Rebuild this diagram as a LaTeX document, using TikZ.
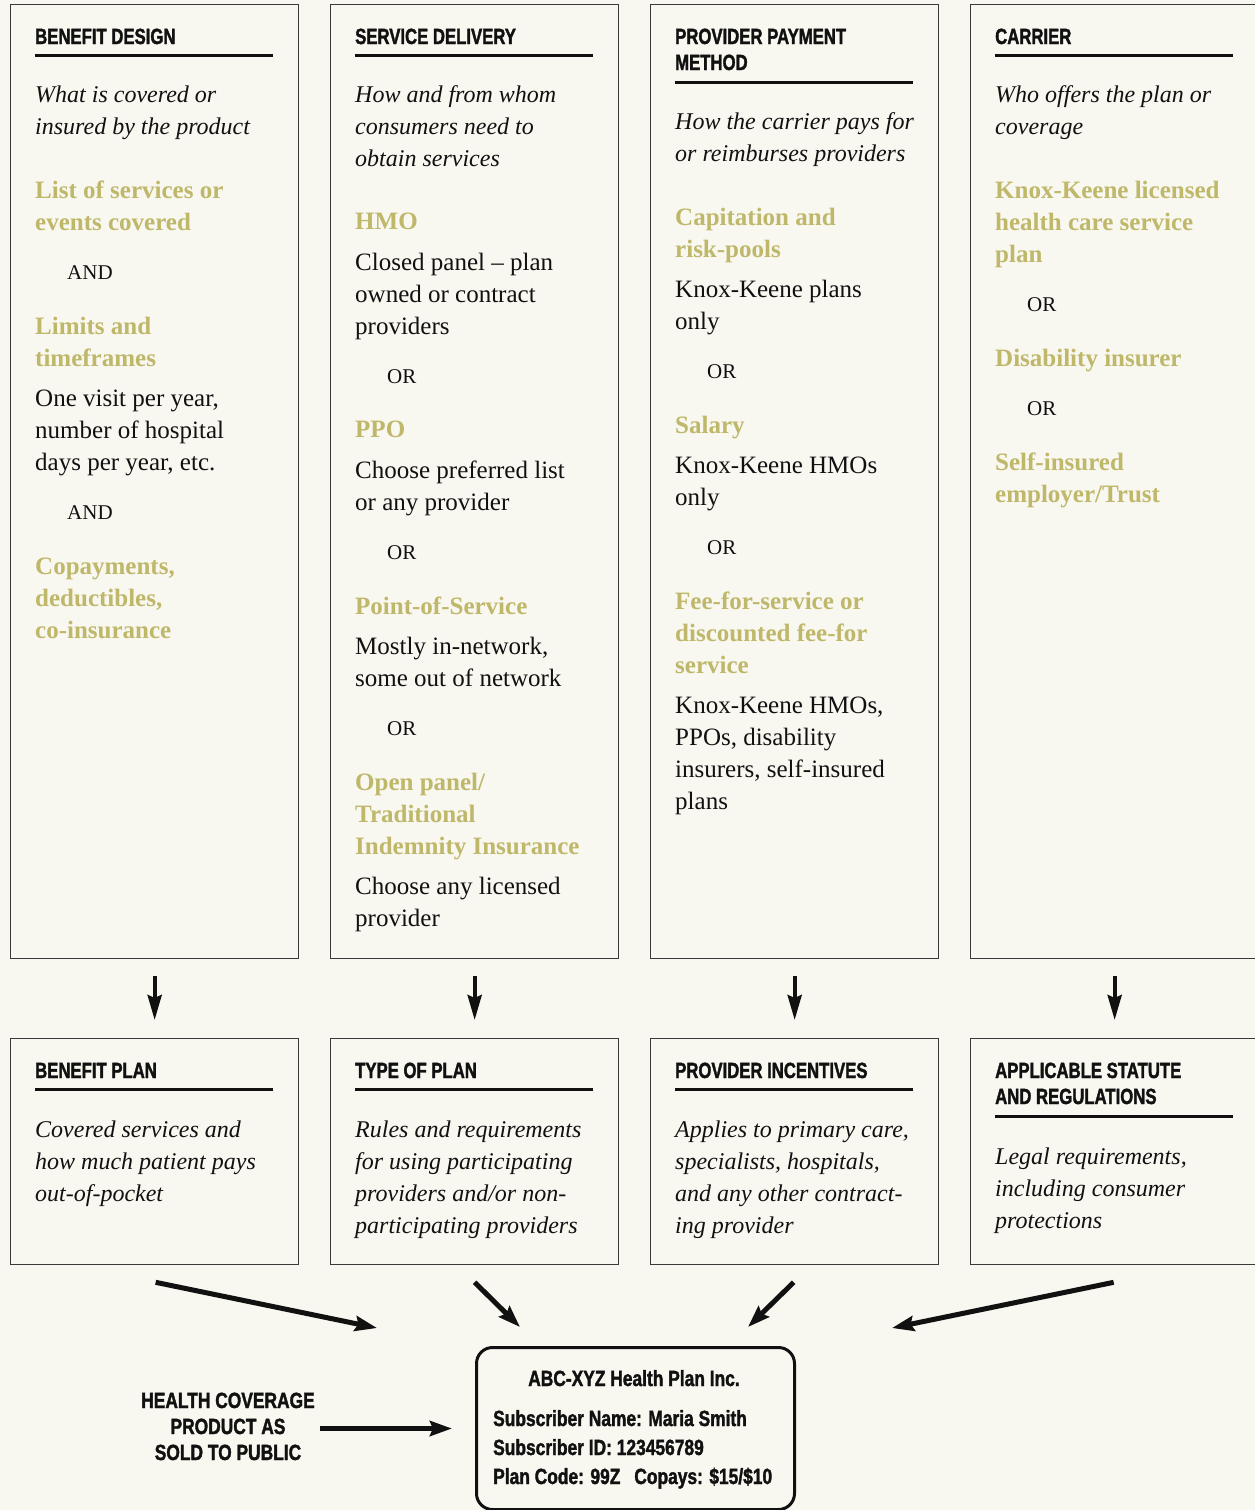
\documentclass[tikz,border=0pt]{standalone}
\usepackage{fontspec}
\setmainfont{Liberation Serif}
\newfontfamily\hdfont[FakeStretch=0.76,FakeBold=1.6]{Liberation Sans Bold}
\newfontfamily\ptfont[FakeStretch=0.79,FakeBold=1.6]{Liberation Sans Bold}
\usetikzlibrary{arrows.meta}
\definecolor{bg}{HTML}{F8F7F0}
\definecolor{gold}{HTML}{BFB86A}
\definecolor{ink}{HTML}{111111}
\definecolor{edge}{HTML}{3A3A3A}
\newcommand\blk[1]{\vtop{\hsize=420pt\raggedright\noindent #1}}
\newcommand\cblk[1]{\vtop{\hsize=220pt\centering #1}}
\tikzset{
  box/.style={draw=edge, line width=1.3pt, anchor=north west, inner sep=0, fill=bg},
  hd/.style={font=\hdfont\fontsize{22}{26}\selectfont, anchor=base west, inner sep=0, text=ink},
  it/.style={font=\itshape\fontsize{24}{32}\selectfont, anchor=base west, inner sep=0, text=ink},
  gd/.style={font=\bfseries\fontsize{25}{32}\selectfont, anchor=base west, inner sep=0, text=gold},
  bd/.style={font=\fontsize{25}{32}\selectfont, anchor=base west, inner sep=0, text=ink},
  cj/.style={font=\fontsize{21}{24}\selectfont, anchor=base west, inner sep=0, text=ink},
  pt/.style={font=\ptfont\fontsize{22}{26}\selectfont, anchor=base west, inner sep=0, text=ink},
  uline/.style={line width=3pt, draw=ink},
  arrd/.style={draw=ink, line width=4pt, -{Stealth[length=25pt,width=14pt,inset=3pt]}, shorten <=17pt, shorten >=18pt},
  arrg/.style={draw=ink, line width=5pt, -{Stealth[length=22pt,width=15pt,inset=3pt]}},
}
\begin{document}
\begin{tikzpicture}[x=1pt,y=-1pt]
\useasboundingbox (0,0) rectangle (1255,1510);
\fill[bg] (0,0) rectangle (1255,1510);

% ---------- top boxes ----------
\node[box, minimum width=288pt, minimum height=954pt] (t1) at (10,4) {};
\node[box, minimum width=288pt, minimum height=954pt] (t2) at (330,4) {};
\node[box, minimum width=288pt, minimum height=954pt] (t3) at (650,4) {};
\node[box, minimum width=288pt, minimum height=954pt] (t4) at (970,4) {};

% box 1
\node[hd] (t1h) at (35,44) {BENEFIT DESIGN};
\draw[uline] (35,55) -- (273,55);
\node[it] (t1d) at (35,102) {\blk{What is covered or\\insured by the product}};
\node[gd] (t1g1) at (35,198) {\blk{List of services or\\events covered}};
\node[cj] (t1c1) at (67,279) {AND};
\node[gd] (t1g2) at (35,334) {\blk{Limits and\\timeframes}};
\node[bd] (t1b2) at (35,406) {\blk{One visit per year,\\number of hospital\\days per year, etc.}};
\node[cj] (t1c2) at (67,519) {AND};
\node[gd] (t1g3) at (35,574) {\blk{Copayments,\\deductibles,\\co-insurance}};

% box 2
\node[hd] (t2h) at (355,44) {SERVICE DELIVERY};
\draw[uline] (355,55) -- (593,55);
\node[it] (t2d) at (355,102) {\blk{How and from whom\\consumers need to\\obtain services}};
\node[gd] (t2g1) at (355,229) {HMO};
\node[bd] (t2b1) at (355,270) {\blk{Closed panel \textendash{} plan\\owned or contract\\providers}};
\node[cj] (t2c1) at (387,383) {OR};
\node[gd] (t2g2) at (355,437) {PPO};
\node[bd] (t2b2) at (355,478) {\blk{Choose preferred list\\or any provider}};
\node[cj] (t2c2) at (387,559) {OR};
\node[gd] (t2g3) at (355,614) {Point-of-Service};
\node[bd] (t2b3) at (355,654) {\blk{Mostly in-network,\\some out of network}};
\node[cj] (t2c3) at (387,735) {OR};
\node[gd] (t2g4) at (355,790) {\blk{Open panel/\\Traditional\\Indemnity Insurance}};
\node[bd] (t2b4) at (355,894) {\blk{Choose any licensed\\provider}};

% box 3
\node[hd] (t3h) at (675,44) {\blk{PROVIDER PAYMENT\\METHOD}};
\draw[uline] (675,82) -- (913,82);
\node[it] (t3d) at (675,129) {\blk{How the carrier pays for\\or reimburses providers}};
\node[gd] (t3g1) at (675,225) {\blk{Capitation and\\risk-pools}};
\node[bd] (t3b1) at (675,297) {\blk{Knox-Keene plans\\only}};
\node[cj] (t3c1) at (707,378) {OR};
\node[gd] (t3g2) at (675,433) {Salary};
\node[bd] (t3b2) at (675,473) {\blk{Knox-Keene HMOs\\only}};
\node[cj] (t3c2) at (707,554) {OR};
\node[gd] (t3g3) at (675,609) {\blk{Fee-for-service or\\discounted fee-for\\service}};
\node[bd] (t3b3) at (675,713) {\blk{Knox-Keene HMOs,\\PPOs, disability\\insurers, self-insured\\plans}};

% box 4
\node[hd] (t4h) at (995,44) {CARRIER};
\draw[uline] (995,55) -- (1233,55);
\node[it] (t4d) at (995,102) {\blk{Who offers the plan or\\coverage}};
\node[gd] (t4g1) at (995,198) {\blk{Knox-Keene licensed\\health care service\\plan}};
\node[cj] (t4c1) at (1027,311) {OR};
\node[gd] (t4g2) at (995,366) {Disability insurer};
\node[cj] (t4c2) at (1027,415) {OR};
\node[gd] (t4g3) at (995,470) {\blk{Self-insured\\employer/Trust}};

% ---------- bottom boxes ----------
\node[box, minimum width=288pt, minimum height=226pt] (b1) at (10,1038) {};
\node[box, minimum width=288pt, minimum height=226pt] (b2) at (330,1038) {};
\node[box, minimum width=288pt, minimum height=226pt] (b3) at (650,1038) {};
\node[box, minimum width=288pt, minimum height=226pt] (b4) at (970,1038) {};

\node[hd] (b1h) at (35,1078) {BENEFIT PLAN};
\draw[uline] (35,1089) -- (273,1089);
\node[it] (b1d) at (35,1137) {\blk{Covered services and\\how much patient pays\\out-of-pocket}};

\node[hd] (b2h) at (355,1078) {TYPE OF PLAN};
\draw[uline] (355,1089) -- (593,1089);
\node[it] (b2d) at (355,1137) {\blk{Rules and requirements\\for using participating\\providers and/or non-\\participating providers}};

\node[hd] (b3h) at (675,1078) {PROVIDER INCENTIVES};
\draw[uline] (675,1089) -- (913,1089);
\node[it] (b3d) at (675,1137) {\blk{Applies to primary care,\\specialists, hospitals,\\and any other contract-\\ing provider}};

\node[hd] (b4h) at (995,1078) {\blk{APPLICABLE STATUTE\\AND REGULATIONS}};
\draw[uline] (995,1116) -- (1233,1116);
\node[it] (b4d) at (995,1164) {\blk{Legal requirements,\\including consumer\\protections}};

% ---------- down arrows ----------
\draw[arrd] (t1.south) -- (b1.north);
\draw[arrd] (t2.south) -- (b2.north);
\draw[arrd] (t3.south) -- (b3.north);
\draw[arrd] (t4.south) -- (b4.north);

% ---------- product card ----------
\node[draw=ink, line width=3pt, rounded corners=16pt, anchor=north west, inner sep=0,
      minimum width=318pt, minimum height=162pt] (prod) at (475,1346) {};
\node[pt, anchor=base] (p0) at (634,1386) {ABC-XYZ Health Plan Inc.};
\node[pt] (p1) at (493,1426) {Subscriber Name: Maria Smith};
\node[pt] (p2) at (493,1455) {Subscriber ID: 123456789};
\node[pt] (p3) at (493,1484) {Plan Code: 99Z\hspace{14pt}Copays: \$15/\$10};

\node[pt, anchor=base] (lab) at (228,1408) {\cblk{HEALTH COVERAGE\\PRODUCT AS\\SOLD TO PUBLIC}};

% ---------- converging arrows ----------
\coordinate (e1) at (377,1328);
\coordinate (e2) at (520,1327);
\coordinate (e3) at (748,1327);
\coordinate (e4) at (892,1328);
\draw[arrg] ([shift={(1pt,-17pt)}]b1.south) -- (e1);
\draw[arrg] ([shift={(0pt,-17pt)}]b2.south) -- (e2);
\draw[arrg] ([shift={(-1pt,-17pt)}]b3.south) -- (e3);
\draw[arrg] ([shift={(-1pt,-17pt)}]b4.south) -- (e4);
\draw[arrg] ([xshift=-155pt]prod.west) -- ([xshift=-23pt]prod.west);
\end{tikzpicture}
\end{document}
